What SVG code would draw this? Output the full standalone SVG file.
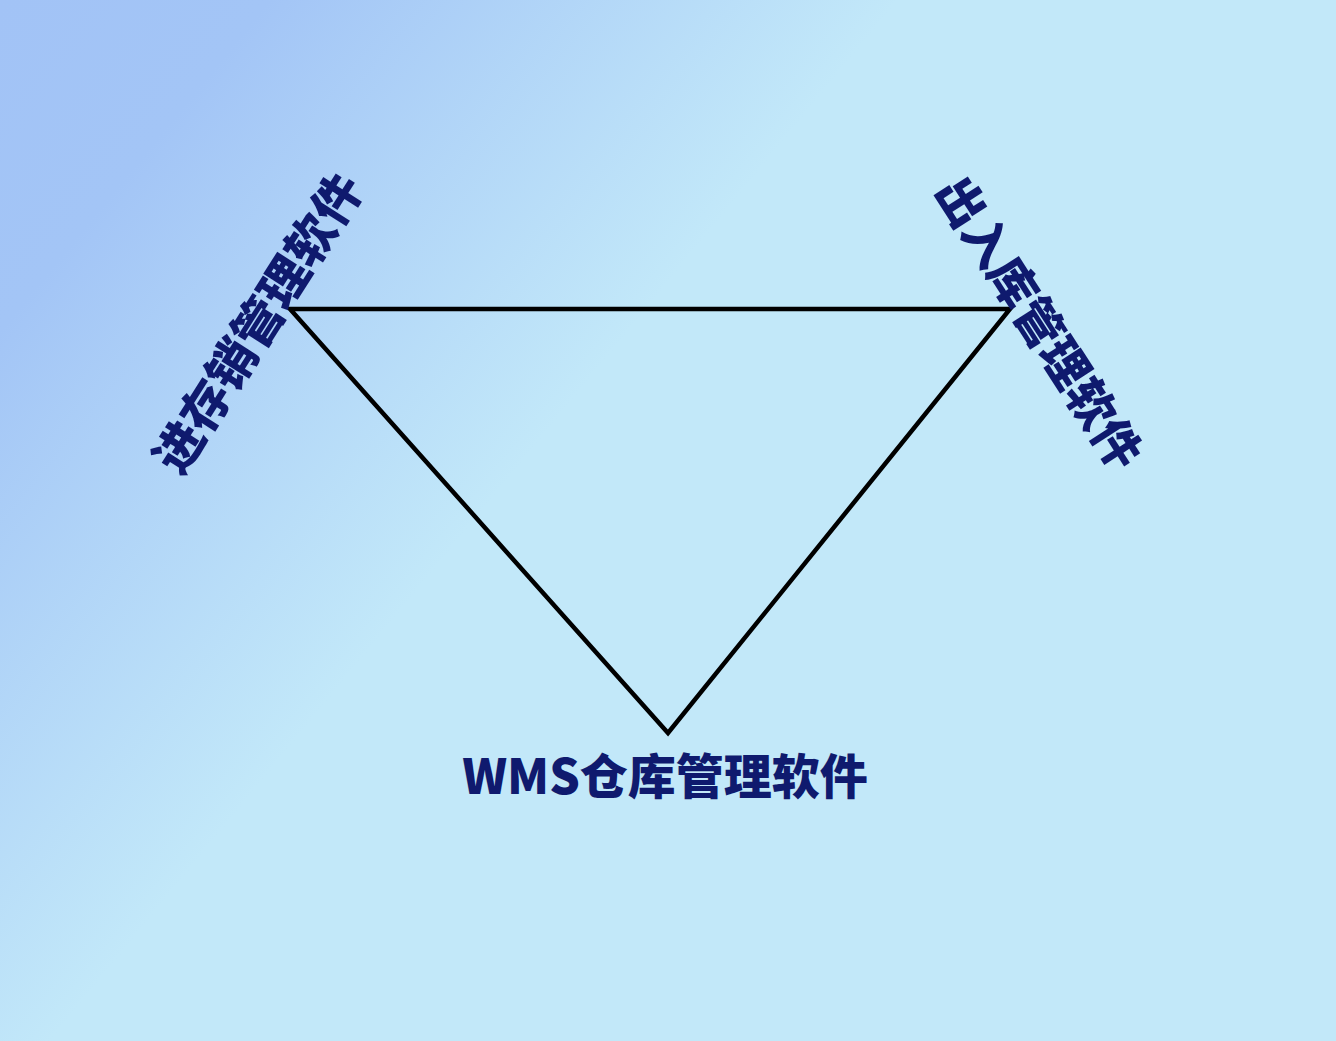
<svg xmlns="http://www.w3.org/2000/svg" width="1336" height="1041" viewBox="0 0 1336 1041">
<defs>
<linearGradient id="bg" gradientUnits="userSpaceOnUse" x1="0" y1="0" x2="540" y2="440">
<stop offset="0" stop-color="#a2c3f6"/>
<stop offset="0.3" stop-color="#a3c5f6"/>
<stop offset="1" stop-color="#c2e8f9"/>
</linearGradient>
<style>
.lbl{font-family:"Noto Sans CJK SC","Noto Sans",sans-serif;font-weight:900;fill:#0f1a6e;text-anchor:middle;dominant-baseline:central}
.edge{fill:none;stroke:#000;stroke-width:4.5;stroke-linejoin:miter}
</style>
</defs>
<rect width="1336" height="1041" fill="url(#bg)"/>
<g id="connectors">
<polygon class="edge" points="290,309 1010,309 668,733"/>
</g>
<g id="node-left">
<text class="lbl" font-size="49" transform="translate(255,321) rotate(-57.5)">进存销管理软件</text>
</g>
<g id="node-right">
<text class="lbl" font-size="48" transform="translate(1042,321) rotate(57.2)">出入库管理软件</text>
</g>
<g id="node-bottom">
<text class="lbl" font-size="48" x="665" y="773">WMS仓库管理软件</text>
</g>
</svg>
